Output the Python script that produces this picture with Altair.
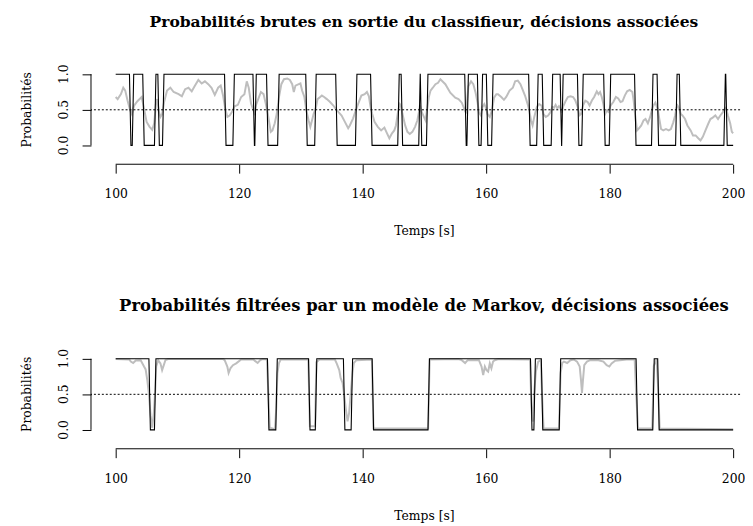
import altair as alt
import pandas as pd

# ---------------- data ----------------
TOP_TIME = [100.0, 100.32, 100.85, 101.23, 101.55, 101.92, 102.35, 102.61, 102.99, 103.52,
            104.21, 104.59, 105.01, 105.49, 105.92, 106.24, 106.51, 106.72, 106.99, 107.25,
            107.52, 107.84, 108.32, 108.85, 109.39, 110.19, 110.72, 111.25, 111.79, 112.32,
            112.85, 113.39, 113.92, 114.45, 114.99, 115.52, 116.05, 116.59, 117.01, 117.39,
            117.76, 118.08, 118.45, 118.83, 119.25, 119.79, 120.32, 120.85, 121.23, 121.55,
            121.92, 122.2, 122.45, 122.7, 122.99, 123.52, 123.95, 124.32, 124.59, 124.85,
            125.12, 125.39, 125.76, 126.08, 126.45, 126.83, 127.25, 127.79, 128.21, 128.59,
            128.85, 129.12, 129.65, 129.92, 130.19, 130.56, 130.88, 131.25, 131.52, 131.79,
            132.05, 132.4, 132.69, 133.12, 133.39, 133.76, 134.19, 134.72, 135.25, 135.68,
            136.05, 136.59, 137.12, 137.65, 137.92, 138.45, 138.88, 139.25, 139.79, 140.32,
            140.69, 141.01, 141.28, 141.55, 141.92, 142.45, 142.99, 143.52, 143.89, 144.32,
            144.75, 145.12, 145.39, 145.76, 146.03, 146.19, 146.45, 146.88, 147.25, 147.63,
            148.05, 148.48, 148.85, 149.12, 149.28, 149.55, 149.92, 150.19, 150.45, 150.72,
            150.99, 151.36, 151.79, 152.21, 152.59, 153.39, 154.19, 154.99, 155.52, 156.05,
            156.48, 156.75, 157.12, 157.55, 157.92, 158.29, 158.61, 158.83, 159.15, 159.4,
            159.7, 159.95, 160.21, 160.59, 160.96, 161.28, 161.65, 161.92, 162.45, 162.88,
            163.25, 163.79, 164.32, 164.69, 165.12, 165.55, 165.92, 166.29, 166.72, 166.99,
            167.25, 167.52, 167.79, 168.21, 168.59, 168.96, 169.28, 169.65, 170.03, 170.45,
            170.72, 170.99, 171.25, 171.52, 171.79, 172.05, 172.25, 172.48, 172.85, 173.23,
            173.65, 174.08, 174.45, 174.83, 175.09, 175.36, 175.68, 176.05, 176.43, 176.75,
            177.12, 177.49, 177.92, 178.19, 178.45, 178.72, 178.99, 179.25, 179.52, 179.79,
            180.16, 180.59, 181.01, 181.39, 181.76, 182.08, 182.45, 182.83, 183.25, 183.68,
            183.89, 184.11, 184.43, 184.75, 185.12, 185.49, 185.81, 186.19, 186.56, 186.88,
            187.09, 187.41, 187.79, 188.05, 188.32, 188.69, 189.12, 189.55, 189.92, 190.29,
            190.61, 190.83, 190.99, 191.25, 191.52, 191.79, 192.21, 192.59, 193.12, 193.49,
            193.92, 194.35, 194.72, 195.09, 195.52, 195.95, 196.32, 196.69, 197.12, 197.55,
            197.92, 198.29, 198.61, 198.83, 199.15, 199.52, 199.79, 200.0]
TOP_PROB = [0.68, 0.65, 0.72, 0.81, 0.77, 0.63, 0.49, 0.44, 0.56, 0.62,
            0.68, 0.52, 0.33, 0.26, 0.22, 0.31, 0.58, 0.65, 0.47, 0.40,
            0.44, 0.61, 0.77, 0.81, 0.75, 0.72, 0.69, 0.79, 0.81, 0.76,
            0.84, 0.92, 0.87, 0.90, 0.86, 0.81, 0.71, 0.81, 0.84, 0.70,
            0.51, 0.40, 0.42, 0.47, 0.55, 0.57, 0.68, 0.72, 0.90, 0.81,
            0.59, 0.52, 0.46, 0.56, 0.63, 0.75, 0.72, 0.58, 0.47, 0.33,
            0.19, 0.21, 0.31, 0.44, 0.68, 0.86, 0.93, 0.94, 0.92, 0.86,
            0.75, 0.84, 0.86, 0.87, 0.77, 0.68, 0.49, 0.35, 0.26, 0.35,
            0.44, 0.52, 0.65, 0.68, 0.70, 0.68, 0.65, 0.61, 0.56, 0.51,
            0.47, 0.42, 0.33, 0.24, 0.28, 0.38, 0.49, 0.58, 0.70, 0.72,
            0.75, 0.69, 0.54, 0.44, 0.33, 0.26, 0.21, 0.25, 0.18, 0.10,
            0.17, 0.21, 0.28, 0.49, 0.58, 0.56, 0.44, 0.28, 0.19, 0.16,
            0.19, 0.26, 0.35, 0.47, 0.56, 0.47, 0.40, 0.35, 0.51, 0.68,
            0.77, 0.81, 0.86, 0.88, 0.93, 0.86, 0.74, 0.67, 0.65, 0.60,
            0.51, 0.45, 0.83, 0.90, 0.86, 0.74, 0.60, 0.46, 0.42, 0.54,
            0.58, 0.53, 0.44, 0.40, 0.50, 0.67, 0.72, 0.72, 0.68, 0.64,
            0.68, 0.77, 0.81, 0.90, 0.91, 0.86, 0.78, 0.70, 0.58, 0.49,
            0.35, 0.28, 0.40, 0.54, 0.58, 0.56, 0.44, 0.40, 0.42, 0.47,
            0.54, 0.53, 0.57, 0.52, 0.55, 0.52, 0.46, 0.55, 0.62, 0.68,
            0.69, 0.68, 0.63, 0.54, 0.42, 0.44, 0.56, 0.63, 0.61, 0.56,
            0.63, 0.68, 0.76, 0.72, 0.75, 0.68, 0.58, 0.44, 0.49, 0.47,
            0.56, 0.61, 0.68, 0.66, 0.61, 0.62, 0.70, 0.76, 0.78, 0.75,
            0.63, 0.44, 0.21, 0.24, 0.28, 0.35, 0.37, 0.31, 0.40, 0.51,
            0.56, 0.60, 0.51, 0.37, 0.23, 0.21, 0.23, 0.21, 0.23, 0.32,
            0.42, 0.53, 0.56, 0.52, 0.44, 0.42, 0.37, 0.28, 0.21, 0.14,
            0.14, 0.10, 0.07, 0.12, 0.21, 0.30, 0.37, 0.39, 0.42, 0.37,
            0.42, 0.46, 0.51, 0.53, 0.42, 0.31, 0.19, 0.17]
# decision switches (0/1 toggles), decision starts at 1 at t = 100
TOP_SWITCH = [102.35, 102.8, 104.5, 106.4, 106.95, 107.7, 117.75, 119.1, 122.35, 122.65,
              124.55, 126.35, 130.9, 132.35, 135.75, 138.95, 141.4, 145.8, 146.35, 149.2,
              149.45, 150.45, 156.65, 157.0, 158.7, 159.3, 160.15, 161.0, 167.0, 168.3,
              169.2, 170.65, 172.1, 172.35, 174.9, 175.6, 179.15, 180.05, 184.15, 186.9,
              187.8, 190.8, 191.4, 198.62, 198.92]

BOT_TIME = [100.0, 102.2, 102.45, 102.83, 103.25, 104.05, 104.59, 104.85, 105.12, 105.39,
            105.65, 105.92, 106.19, 106.4, 106.56, 106.88, 107.25, 107.52, 107.79, 108.05,
            108.5, 117.4, 117.65, 118.08, 118.29, 118.61, 118.99, 119.52, 120.32, 122.3,
            122.56, 122.99, 123.41, 123.8, 124.5, 124.75, 124.95, 125.8, 126.0, 126.19,
            126.45, 126.72, 131.2, 131.45, 132.3, 132.5, 133.0, 135.5, 135.79, 136.21,
            136.43, 136.75, 136.96, 137.28, 137.55, 137.81, 138.03, 138.35, 138.56, 138.99,
            141.5, 141.75, 150.6, 150.85, 155.5, 156.05, 156.59, 157.01, 158.83, 159.25,
            159.52, 159.79, 160.05, 160.32, 160.59, 160.85, 161.12, 161.39, 162.0, 167.1,
            167.3, 167.45, 167.6, 167.75, 168.05, 168.43, 168.85, 169.05, 169.3, 171.8,
            172.05, 172.32, 172.59, 173.12, 173.65, 174.19, 174.72, 175.15, 175.36, 175.52,
            175.68, 175.89, 176.32, 176.85, 178.19, 178.99, 179.52, 179.95, 180.32, 180.85,
            181.65, 182.72, 184.05, 184.3, 184.6, 186.9, 187.15, 187.6, 187.85, 188.1,
            200.0]
BOT_PROB = [0.995, 0.99, 0.96, 0.94, 0.975, 0.98, 0.89, 0.85, 0.70, 0.50,
            0.20, 0.03, 0.25, 0.55, 0.89, 0.98, 0.935, 0.84, 0.91, 0.98,
            0.995, 0.995, 0.98, 0.89, 0.80, 0.87, 0.91, 0.935, 0.99, 0.99,
            0.97, 0.94, 0.98, 0.995, 0.99, 0.45, 0.03, 0.01, 0.30, 0.80,
            0.94, 0.99, 0.99, 0.05, 0.05, 0.95, 0.99, 0.99, 0.935, 0.84,
            0.73, 0.66, 0.52, 0.29, 0.12, 0.24, 0.47, 0.80, 0.94, 0.98,
            0.99, 0.02, 0.02, 0.99, 0.995, 0.98, 0.94, 0.98, 0.98, 0.89,
            0.77, 0.89, 0.84, 0.82, 0.935, 0.865, 0.96, 0.98, 0.995, 0.99,
            0.40, 0.15, 0.12, 0.50, 0.82, 0.96, 0.98, 0.50, 0.02, 0.02,
            0.80, 0.94, 0.96, 0.94, 0.98, 0.99, 0.96, 0.89, 0.70, 0.52,
            0.70, 0.91, 0.96, 0.98, 0.98, 0.96, 0.91, 0.89, 0.935, 0.97,
            0.98, 0.99, 0.99, 0.50, 0.02, 0.02, 0.90, 0.99, 0.60, 0.02,
            0.01]
BOT_SWITCH = [105.5, 106.4, 124.7, 126.05, 131.35, 132.45, 137.0, 138.25, 141.65, 150.7,
              167.3, 167.85, 169.05, 171.95, 184.4, 187.1, 187.9]

X_TICKS = [100, 120, 140, 160, 180, 200]
Y_TICKS = [0.0, 0.5, 1.0]
Y_TICK_LABELS = ["0.0", "0.5", "1.0"]
TITLES = ["Probabilités brutes en sortie du classifieur, décisions associées",
          "Probabilités filtrées par un modèle de Markov, décisions associées"]
TITLE_SIZES = [15.7, 16.6]
X_LABEL = "Temps [s]"
Y_LABEL = "Probabilités"

# ---------------- layout / style ----------------
FONT = "DejaVu Serif"
W, H = 657, 94
X_DOM = [96, 201.12]
Y_DOM = [-0.2656, 1.04]


def steps(switches, start=1, t0=100.0, t1=200.0, half=0.12):
    rows = [{"t": t0, "d": start}]
    v = start
    for s in switches:
        rows.append({"t": s - half, "d": v})
        v = 1 - v
        rows.append({"t": s + half, "d": v})
    rows.append({"t": t1, "d": v})
    return pd.DataFrame(rows)


def panel(title, title_size, times, probs, switches):
    xs = alt.Scale(domain=X_DOM, nice=False, zero=False)
    ys = alt.Scale(domain=Y_DOM, nice=False, zero=False)
    x_axis = alt.Axis(values=X_TICKS, format="d", domain=False, grid=False,
                      tickSize=9, tickColor="black", tickWidth=1,
                      labelFont=FONT, labelFontSize=12.5, labelColor="black",
                      labelBaseline="alphabetic", labelAlign="center", labelPadding=25,
                      labelFlush=False, labelOverlap=False,
                      title=X_LABEL, titleFont=FONT, titleFontSize=12.5,
                      titleFontWeight="normal", titleColor="black",
                      titleX=337, titleY=71.5, titleAlign="center",
                      titleBaseline="alphabetic")
    y_axis = alt.Axis(values=Y_TICKS, domain=False, grid=False, labels=False,
                      tickSize=9, tickColor="black", tickWidth=1,
                      title=Y_LABEL, titleFont=FONT, titleFontSize=12.5,
                      titleFontWeight="normal", titleColor="black",
                      titleAngle=270, titleX=-61.5, titleY=38.4,
                      titleAlign="center", titleBaseline="alphabetic")

    gray = alt.Chart(pd.DataFrame({"t": times, "p": probs})).mark_line(
        color="#BEBEBE", strokeWidth=2
    ).encode(
        x=alt.X("t:Q", scale=xs, axis=x_axis),
        y=alt.Y("p:Q", scale=ys, axis=y_axis),
    )
    dec = alt.Chart(steps(switches)).mark_line(
        color="black", strokeWidth=1.1
    ).encode(
        x=alt.X("t:Q", scale=xs, axis=x_axis),
        y=alt.Y("d:Q", scale=ys, axis=y_axis),
    )
    thr = alt.Chart(pd.DataFrame({"y": [0.5]})).mark_rule(
        color="black", strokeDash=[2, 2], strokeWidth=1
    ).encode(y=alt.Y("y:Q", scale=ys, axis=y_axis))
    xline = alt.Chart(pd.DataFrame({"a": [X_TICKS[0]], "b": [X_TICKS[-1]]})).mark_rule(
        color="black", strokeWidth=1
    ).encode(x=alt.X("a:Q", scale=xs, axis=x_axis), x2="b:Q", y=alt.value(H))
    yline = alt.Chart(pd.DataFrame({"a": [Y_TICKS[0]], "b": [Y_TICKS[-1]]})).mark_rule(
        color="black", strokeWidth=1
    ).encode(y=alt.Y("a:Q", scale=ys, axis=y_axis), y2="b:Q", x=alt.value(0))
    ylab = alt.Chart(pd.DataFrame({"v": Y_TICKS, "lab": Y_TICK_LABELS})).mark_text(
        angle=270, align="center", baseline="alphabetic",
        font=FONT, fontSize=12.5, color="black"
    ).encode(y=alt.Y("v:Q", scale=ys, axis=y_axis), x=alt.value(-23), text="lab:N")

    return alt.layer(gray, dec, thr, xline, yline, ylab).properties(
        width=W, height=H,
        title=alt.TitleParams(title, font=FONT, fontSize=title_size, fontWeight="bold",
                              color="black", anchor="middle", frame="group",
                              dx=8.5, offset=22, baseline="alphabetic"),
    )


chart = alt.vconcat(
    panel(TITLES[0], TITLE_SIZES[0], TOP_TIME, TOP_PROB, TOP_SWITCH),
    panel(TITLES[1], TITLE_SIZES[1], BOT_TIME, BOT_PROB, BOT_SWITCH),
    spacing=61,
).properties(
    padding={"left": 12, "top": 3, "right": 0, "bottom": 0},
    background="white",
).configure_view(stroke=None)

chart.save("out.html", embed_options={"renderer": "svg", "actions": False})
